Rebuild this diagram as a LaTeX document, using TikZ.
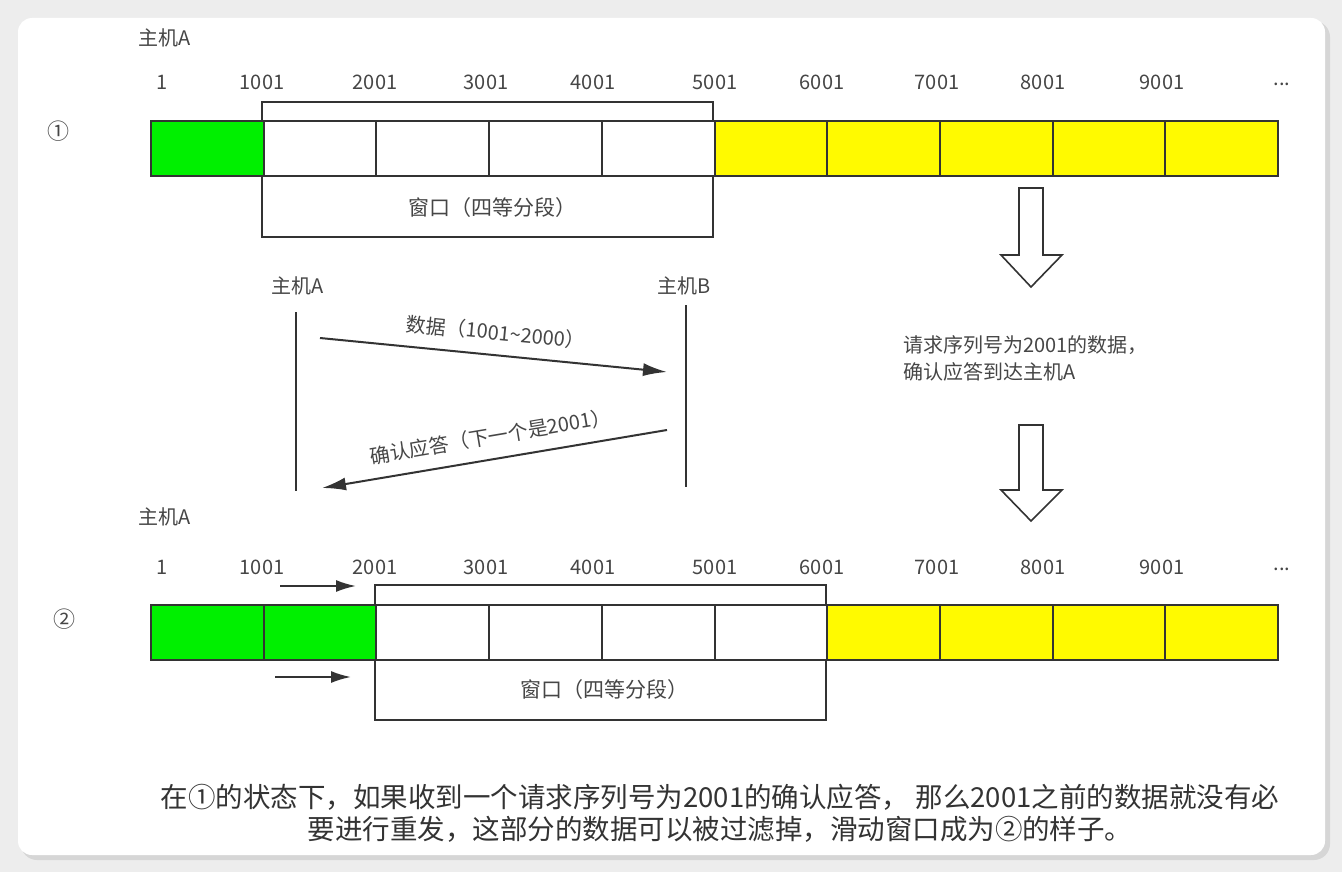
\documentclass[tikz,border=0pt]{standalone}
\usepackage{fontspec}
\setmainfont{Noto Sans CJK SC}
\usetikzlibrary{positioning,arrows.meta}

\definecolor{edge}{RGB}{51,51,51}
\definecolor{txt}{RGB}{70,70,70}
\definecolor{cellgreen}{RGB}{0,240,0}
\definecolor{cellyellow}{RGB}{255,250,0}

\begin{document}
\begin{tikzpicture}[x=1pt,y=-1pt,
		cell/.style={draw=edge, line width=2pt, minimum width=112.7pt, minimum height=55pt, inner sep=0pt, anchor=north west},
		frame/.style={draw=edge, line width=2pt},
		num/.style={font=\fontsize{20}{20}\selectfont, text=txt},
		lbl/.style={font=\fontsize{20}{20}\selectfont, text=txt},
		msg/.style={draw=edge, line width=2pt, -{Latex[length=24pt,width=13pt]}},
		slidearrow/.style={draw=edge, line width=2pt, -{Latex[length=20pt,width=12pt]}},
		hollow/.style={draw=edge, line width=1.6pt, fill=white}]
	% background and card
	\fill[black!7] (0,0) rectangle (1342,872);
	\fill[black!16, rounded corners=16pt] (21,21) rectangle (1330,860);
	\fill[white, rounded corners=14pt] (18,18) rectangle (1325,855);

	% state 1
	\node[lbl] (hostA1) at (165,38) {主机A};
	\node[lbl, font=\fontsize{22}{22}\selectfont] (st1) at (58,131) {①};
	\foreach \v/\x in {1/162,1001/262,2001/375,3001/486,4001/593,5001/715,6001/822,7001/937,8001/1043,9001/1162}
		\node[num] (top-\v) at (\x,82) {\v};
	\node[num] (topdots) at (1282,84) {...};
	\draw[frame] (262,102) rectangle (713,237);
	\node[cell, fill=cellgreen] (a0) at (150,120) {};
	\foreach \i in {1,...,4}
		\node[cell, fill=white] (a\i) at ({150+112.7*\i},120) {};
	\foreach \i in {5,...,9}
		\node[cell, fill=cellyellow] (a\i) at ({150+112.7*\i},120) {};
	\node[lbl, font=\fontsize{21}{21}\selectfont] (win1) at (492,208) {窗口（四等分段）};

	% exchange between the hosts
	\node[lbl] (seqA) at (298,286) {主机A};
	\node[lbl] (seqB) at (684,286) {主机B};
	\coordinate (aTop) at (296,312);
	\coordinate (aBot) at (296,491);
	\coordinate (bTop) at (686,305);
	\coordinate (bBot) at (686,487);
	\draw[frame] (aTop) -- (aBot);
	\draw[frame] (bTop) -- (bBot);
	\coordinate (dataOut) at (320,338);
	\coordinate (dataIn) at (667,372);
	\coordinate (ackOut) at (667,430);
	\coordinate (ackIn) at (322,488);
	\draw[msg] (dataOut) -- node[lbl, sloped, above=9pt] (dataLbl) {数据（1001\textasciitilde2000）} (dataIn);
	\draw[msg] (ackOut) -- node[lbl, sloped, above=9pt] (ackLbl) {确认应答（下一个是2001）} (ackIn);

	% hollow arrows and note
	\draw[hollow] (1019,188) -- (1043,188) -- (1043,255) -- (1062,255) -- (1031,287) -- (1001,255) -- (1019,255) -- cycle;
	\draw[hollow] (1019,425) -- (1043,425) -- (1043,490) -- (1062,490) -- (1031,521) -- (1001,490) -- (1019,490) -- cycle;
	\node[lbl, anchor=west, align=left, font=\fontsize{20}{27}\selectfont] (note) at (900,358) {请求序列号为2001的数据，\\确认应答到达主机A};

	% state 2
	\node[lbl] (hostA2) at (165,517) {主机A};
	\node[lbl, font=\fontsize{22}{22}\selectfont] (st2) at (64,619) {②};
	\foreach \v/\x in {1/162,1001/262,2001/375,3001/486,4001/593,5001/715,6001/822,7001/937,8001/1043,9001/1162}
		\node[num] (bot-\v) at (\x,567) {\v};
	\node[num] (botdots) at (1282,569) {...};
	\draw[frame] (375,585) rectangle (826,720);
	\foreach \i in {0,1}
		\node[cell, fill=cellgreen] (b\i) at ({150+112.7*\i},604) {};
	\foreach \i in {2,...,5}
		\node[cell, fill=white] (b\i) at ({150+112.7*\i},604) {};
	\foreach \i in {6,...,9}
		\node[cell, fill=cellyellow] (b\i) at ({150+112.7*\i},604) {};
	\node[lbl, font=\fontsize{21}{21}\selectfont] (win2) at (604,690) {窗口（四等分段）};
	\coordinate (upFrom) at (280,586);
	\coordinate (upTo) at (356,586);
	\coordinate (lowFrom) at (275,677);
	\coordinate (lowTo) at (351,677);
	\draw[slidearrow] (upFrom) -- (upTo);
	\draw[slidearrow] (lowFrom) -- (lowTo);

	% caption
	\node[align=center, text=edge, font=\fontsize{27.5}{32}\selectfont] (caption) at (720,813) {在①的状态下，如果收到一个请求序列号为2001的确认应答， 那么2001之前的数据就没有必\\要进行重发，这部分的数据可以被过滤掉，滑动窗口成为②的样子。};
\end{tikzpicture}
\end{document}
